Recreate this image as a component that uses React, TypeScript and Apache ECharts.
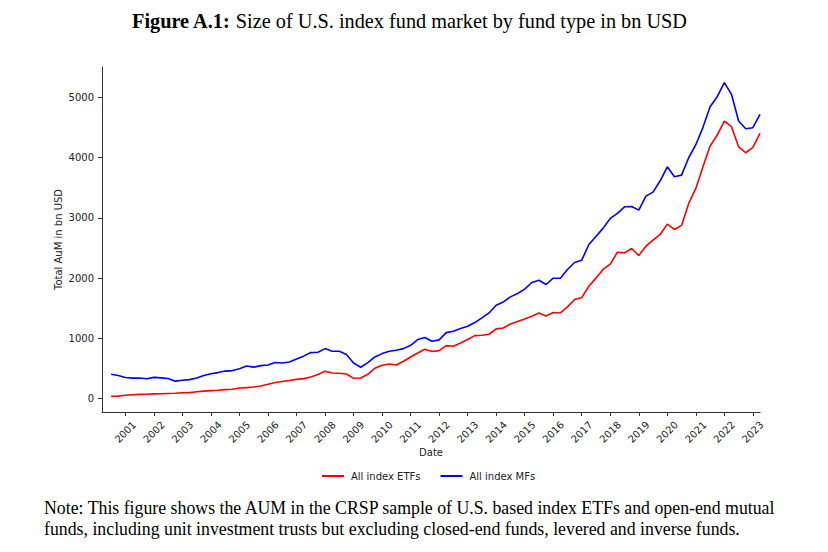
import React, { useEffect, useRef } from "react";
import * as echarts from "echarts";

// Quarter-end observations, 2000Q2 .. 2023Q1
const quarters: string[] = [
  "2000Q2", "2000Q3", "2000Q4",
  "2001Q1", "2001Q2", "2001Q3", "2001Q4",
  "2002Q1", "2002Q2", "2002Q3", "2002Q4",
  "2003Q1", "2003Q2", "2003Q3", "2003Q4",
  "2004Q1", "2004Q2", "2004Q3", "2004Q4",
  "2005Q1", "2005Q2", "2005Q3", "2005Q4",
  "2006Q1", "2006Q2", "2006Q3", "2006Q4",
  "2007Q1", "2007Q2", "2007Q3", "2007Q4",
  "2008Q1", "2008Q2", "2008Q3", "2008Q4",
  "2009Q1", "2009Q2", "2009Q3", "2009Q4",
  "2010Q1", "2010Q2", "2010Q3", "2010Q4",
  "2011Q1", "2011Q2", "2011Q3", "2011Q4",
  "2012Q1", "2012Q2", "2012Q3", "2012Q4",
  "2013Q1", "2013Q2", "2013Q3", "2013Q4",
  "2014Q1", "2014Q2", "2014Q3", "2014Q4",
  "2015Q1", "2015Q2", "2015Q3", "2015Q4",
  "2016Q1", "2016Q2", "2016Q3", "2016Q4",
  "2017Q1", "2017Q2", "2017Q3", "2017Q4",
  "2018Q1", "2018Q2", "2018Q3", "2018Q4",
  "2019Q1", "2019Q2", "2019Q3", "2019Q4",
  "2020Q1", "2020Q2", "2020Q3", "2020Q4",
  "2021Q1", "2021Q2", "2021Q3", "2021Q4",
  "2022Q1", "2022Q2", "2022Q3", "2022Q4",
  "2023Q1",
];

const etfValues: number[] = [
  40, 42, 55,
  65, 70, 72, 78,
  82, 86, 90, 98,
  100, 115, 125, 133,
  140, 150, 155, 175,
  182, 193, 210, 238,
  268, 285, 300, 320,
  332, 358, 400, 455,
  426, 420, 409, 337,
  342, 404, 505, 553,
  575, 558, 620, 691,
  758, 819, 781, 797,
  880, 869, 924, 980,
  1046, 1051, 1068, 1157,
  1173, 1239, 1279, 1322,
  1367, 1422, 1372, 1428,
  1422, 1522, 1644, 1677,
  1865, 2000, 2143, 2231,
  2430, 2419, 2492, 2375,
  2530, 2630, 2724, 2895,
  2807, 2874, 3239, 3488,
  3847, 4191, 4374, 4606,
  4512, 4179, 4080, 4169,
  4402,
];

const mfValues: number[] = [
  405, 385, 350,
  340, 342, 330, 352,
  345, 335, 290, 305,
  315, 343, 385, 412,
  432, 457, 465, 497,
  540, 522, 548, 558,
  600, 592, 608, 658,
  705, 764, 770, 830,
  786, 786, 731, 591,
  520, 598, 691, 747,
  786, 802, 830, 885,
  980, 1013, 952, 975,
  1095, 1118, 1163, 1201,
  1262, 1339, 1422, 1550,
  1605, 1688, 1744, 1816,
  1927, 1965, 1894, 1998,
  1998, 2143, 2259, 2297,
  2558, 2690, 2829, 2990,
  3073, 3183, 3189, 3128,
  3360, 3427, 3615, 3847,
  3681, 3709, 3997, 4213,
  4502, 4844, 5010, 5243,
  5050, 4606, 4478, 4495,
  4718,
];

const xTickYears: number[] = [
  2001, 2002, 2003, 2004, 2005, 2006, 2007, 2008, 2009, 2010, 2011, 2012,
  2013, 2014, 2015, 2016, 2017, 2018, 2019, 2020, 2021, 2022, 2023,
];
const yTicks: number[] = [0, 1000, 2000, 3000, 4000, 5000];

const seriesNames = ["All index ETFs", "All index MFs"];

const titleBold = "Figure A.1:";
const titleRest = "Size of U.S. index fund market by fund type in bn USD";
const noteLine1 =
  "Note: This figure shows the AUM in the CRSP sample of U.S. based index ETFs and open-end mutual";
const noteLine2 =
  "funds, including unit investment trusts but excluding closed-end funds, levered and inverse funds.";

// quarter label -> fractional year position (quarter end)
const quarterToYear = (q: string): number =>
  Number(q.slice(0, 4)) + Number(q.slice(5)) / 4;

export default function App() {
  const ref = useRef<HTMLDivElement>(null);

  useEffect(() => {
    document.body.style.margin = "0";
    if (!ref.current) return;
    const chart = echarts.init(ref.current, undefined, { renderer: "svg" });

    const etfData = quarters.map((q, i) => [quarterToYear(q), etfValues[i]]);
    const mfData = quarters.map((q, i) => [quarterToYear(q), mfValues[i]]);

    const sans = "DejaVu Sans";
    const serif = "Liberation Serif";
    const axisColor = "#333";
    const textColor = "#222";

    const option: any = {
      animation: false,
      backgroundColor: "#ffffff",
      grid: { left: 102, top: 67, width: 658, height: 345, containLabel: false },
      xAxis: {
        type: "value",
        min: 2000.18,
        max: 2023.25,
        splitLine: { show: false },
        axisLine: { show: true, onZero: false, lineStyle: { color: axisColor, width: 1 } },
        axisTick: {
          show: true,
          customValues: xTickYears,
          length: 4,
          lineStyle: { color: axisColor, width: 1 },
        },
        axisLabel: {
          customValues: xTickYears,
          rotate: 45,
          align: "center",
          verticalAlign: "middle",
          margin: 20,
          fontFamily: sans,
          fontSize: 10,
          color: textColor,
          formatter: (v: number) => String(v),
        },
        name: "Date",
        nameLocation: "middle",
        nameGap: 40,
        nameMoveOverlap: false,
        nameTextStyle: {
          fontFamily: sans,
          fontSize: 10,
          color: textColor,
          verticalAlign: "middle",
        },
      },
      yAxis: {
        type: "value",
        min: -222,
        max: 5503,
        splitLine: { show: false },
        axisLine: { show: true, onZero: false, lineStyle: { color: axisColor, width: 1 } },
        axisTick: {
          show: true,
          customValues: yTicks,
          length: 4,
          lineStyle: { color: axisColor, width: 1 },
        },
        axisLabel: {
          customValues: yTicks,
          margin: 8,
          fontFamily: sans,
          fontSize: 10,
          color: textColor,
          formatter: (v: number) => String(v),
        },
        name: "Total AuM in bn USD",
        nameLocation: "middle",
        nameGap: 44,
        nameMoveOverlap: false,
        nameRotate: 90,
        nameTextStyle: {
          fontFamily: sans,
          fontSize: 10,
          color: textColor,
          verticalAlign: "middle",
        },
      },
      legend: {
        left: 317,
        top: 466,
        icon: "rect",
        itemWidth: 22,
        itemHeight: 2,
        itemGap: 20,
        data: seriesNames,
        textStyle: {
          fontFamily: sans,
          fontSize: 10,
          color: textColor,
          padding: [0, 0, 0, 2],
        },
      },
      series: [
        {
          name: seriesNames[0],
          type: "line",
          data: etfData,
          showSymbol: false,
          symbol: "none",
          lineStyle: { color: "#ff0000", width: 1.6 },
          itemStyle: { color: "#ff0000" },
        },
        {
          name: seriesNames[1],
          type: "line",
          data: mfData,
          showSymbol: false,
          symbol: "none",
          lineStyle: { color: "#0000ff", width: 1.6 },
          itemStyle: { color: "#0000ff" },
        },
      ],
      graphic: [
        {
          type: "text",
          left: 132,
          top: 11,
          style: {
            text: `{b|${titleBold}} ${titleRest}`,
            fontFamily: serif,
            fontSize: 20.3,
            fill: "#000",
            rich: {
              b: { fontFamily: serif, fontSize: 20.3, fontWeight: "bold", fill: "#000" },
            },
          },
        },
        {
          type: "text",
          left: 44,
          top: 499,
          style: { text: noteLine1, fontFamily: serif, fontSize: 17.8, fill: "#000" },
        },
        {
          type: "text",
          left: 44,
          top: 520,
          style: { text: noteLine2, fontFamily: serif, fontSize: 17.8, fill: "#000" },
        },
      ],
    };

    chart.setOption(option);
    return () => chart.dispose();
  }, []);

  return <div ref={ref} style={{ width: 828, height: 552 }} />;
}
